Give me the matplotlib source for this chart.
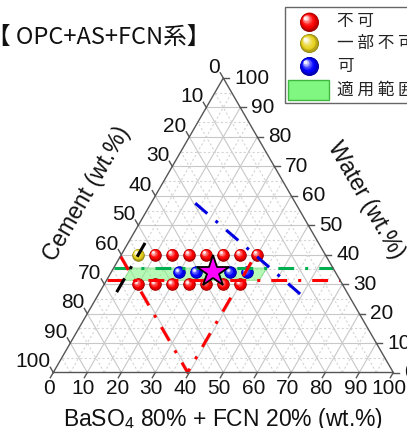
import numpy as np
import matplotlib
matplotlib.use("Agg")
import matplotlib.pyplot as plt
import matplotlib.colors as mcolors
from matplotlib.patches import Polygon, Rectangle
from matplotlib.transforms import offset_copy

plt.rcParams["mathtext.fontset"] = "custom"
plt.rcParams["mathtext.rm"] = "Liberation Sans"
plt.rcParams["mathtext.it"] = "Liberation Sans:italic"
plt.rcParams["mathtext.bf"] = "Liberation Sans:bold"

# ---- mixes, given as (BaSO4+FCN wt.%, water wt.%); cement = 100 - both ----
ng_baso4 = [10, 15, 20, 25, 30, 35, 40, 10, 15, 20, 25, 30, 35, 40]
ng_water = [40, 40, 40, 40, 40, 40, 40, 30, 30, 30, 30, 30, 30, 30]
part_baso4 = [5]
part_water = [40]
ok_baso4 = [20, 25, 35, 40]
ok_water = [34, 34, 34, 34]
opt_baso4 = [30]
opt_water = [34]

# ---- guide lines and applicable band ----
red_h_baso4 = [0, 68.7]
red_h_water = [31.3, 31.3]
green_h_baso4 = [0, 64.5]
green_h_water = [35.5, 35.5]
red_v_baso4 = [0, 39.5, 39.5]
red_v_water = [39.5, 0, 40]
blue_baso4 = [13, 62.5]
blue_water = [57.5, 24.5]
black_baso4 = [5, 5]
black_water = [44, 26]
band_baso4 = [5, 45, 45, 5]
band_water = [31.3, 31.3, 35.5, 35.5]

tick_values = [0, 10, 20, 30, 40, 50, 60, 70, 80, 90, 100]
legend_labels = ["不 可", "一 部 不 可", "可", "適 用 範 囲"]

W_PX, H_PX = 407, 428
PPU = 3.4                 # pixels per ternary unit
ORIGIN = (53.3, 372.5)    # pixel position of the cement corner
S3 = np.sqrt(3) / 2


def tern(b, w):
    b = np.asarray(b, float)
    w = np.asarray(w, float)
    return b + w / 2, w * S3


def fpos(px, py):
    return px / W_PX, 1 - py / H_PX


def to_px(x, y):
    return ORIGIN[0] + x * PPU, ORIGIN[1] - y * PPU


fig = plt.figure(figsize=(W_PX / 100, H_PX / 100), dpi=100)
ax = fig.add_axes([0, 0, 1, 1])
ax.set_xlim(-ORIGIN[0] / PPU, (W_PX - ORIGIN[0]) / PPU)
ax.set_ylim(-(H_PX - ORIGIN[1]) / PPU, ORIGIN[1] / PPU)
ax.axis("off")

# ---- grid ----
for v in range(5, 100, 5):
    major = v % 10 == 0
    kw = dict(color="#c8c8c8", lw=0.8, zorder=1) if major else \
        dict(color="#d4d4d4", lw=0.8, ls=(0, (2, 2)), zorder=1)
    for bs, ws in (([0, 100 - v], [v, v]),          # constant water
                   ([v, v], [0, 100 - v]),          # constant BaSO4
                   ([100 - v, 0], [0, 100 - v])):   # constant cement
        x, y = tern(bs, ws)
        ax.plot(x, y, **kw)

# ---- frame ----
fx, fy = tern([0, 100, 0, 0], [0, 0, 100, 0])
ax.plot(fx, fy, color="#555555", lw=1.0, zorder=6, solid_joinstyle="miter")

# ---- ticks and tick labels ----
tl = 6 / PPU
lab_font = dict(family="Liberation Sans", size=15, color="#111111")
for v in tick_values:
    # bottom: BaSO4
    x, y = tern(v, 0)
    ax.plot([x, x + tl * np.cos(np.radians(240))], [y, y + tl * np.sin(np.radians(240))],
            color="#555555", lw=1.0, zorder=6)
    px, py = to_px(x, y)
    fig.text(*fpos(px - 4, 388), str(v), ha="center", va="center", **lab_font)
    # left: cement
    x, y = tern(0, 100 - v)
    ax.plot([x, x + tl * np.cos(np.radians(120))], [y, y + tl * np.sin(np.radians(120))],
            color="#555555", lw=1.0, zorder=6)
    px, py = to_px(x, y)
    fig.text(*fpos(px - 3, py - 10.7), str(v), ha="right", va="center", **lab_font)
    # right: water
    x, y = tern(100 - v, v)
    ax.plot([x, x + tl], [y, y], color="#555555", lw=1.0, zorder=6)
    px, py = to_px(x, y)
    fig.text(*fpos(px + 11, py), str(v), ha="left", va="center", **lab_font)

# ---- axis titles ----
title_font = dict(family="Liberation Sans", size=16.5, color="#111111")
fig.text(*fpos(223, 426), r"BaSO$_4$ 80% + FCN 20% (wt.%)", ha="center",
         va="baseline", **title_font)
fig.text(*fpos(87, 194), "Cement (wt.%)", ha="center", va="center",
         rotation=60, rotation_mode="anchor", **title_font)
fig.text(*fpos(366, 200), "Water (wt.%)", ha="center", va="center",
         rotation=-60, rotation_mode="anchor", **title_font)

# ---- applicable band ----
bx, by = tern(band_baso4, band_water)
ax.add_patch(Polygon(np.column_stack([bx, by]), closed=True, facecolor="#86f486",
                     edgecolor="#5cc85c", lw=0.6, alpha=0.6, zorder=2))


# ---- shaded balls ----
def balls(xs, ys, color, ms, transform, zorder):
    base = np.array(mcolors.to_rgb(color))
    dark = base * 0.62
    n = 14
    for i in range(n):
        t = i / (n - 1)
        size = ms * (1 - 0.82 * t)
        shift = ms * 0.2 * t
        if t < 0.35:
            c = dark + (base - dark) * (t / 0.35)
        else:
            u = (t - 0.35) / 0.65
            c = base + (np.ones(3) - base) * (u ** 1.6) * 0.95
        tr = offset_copy(transform, fig=fig, x=-shift, y=shift, units="points")
        ax.plot(xs, ys, ls="none", marker="o", ms=size, mfc=tuple(c), mec="none",
                transform=tr, zorder=zorder + i * 0.001, clip_on=False)


x, y = tern(ng_baso4, ng_water)
balls(x, y, "#ff0000", 9, ax.transData, 3)
x, y = tern(part_baso4, part_water)
balls(x, y, "#e8d21e", 9, ax.transData, 3)
x, y = tern(ok_baso4, ok_water)
balls(x, y, "#0000ff", 9, ax.transData, 3)

# ---- guide lines ----
dd = (5.2, 3.6, 1.0, 3.6)
for bs, ws, col in ((red_h_baso4, red_h_water, "#ff0000"),
                    (green_h_baso4, green_h_water, "#00b050"),
                    (red_v_baso4, red_v_water, "#ff0000"),
                    (blue_baso4, blue_water, "#0000e0"),
                    (black_baso4, black_water, "#000000")):
    x, y = tern(bs, ws)
    ax.plot(x, y, color=col, lw=2.2, dashes=dd, dash_capstyle="butt", zorder=4)

x, y = tern(opt_baso4, opt_water)
ax.plot(x, y, ls="none", marker="*", ms=24, mfc="#ff00ff", mec="black", mew=1.3,
        zorder=5)

# ---- title ----
fig.text(*fpos(-13, 37), "【 OPC+AS+FCN系】", ha="left", va="center",
         family=["Noto Sans CJK JP", "DejaVu Sans"], size=17, color="#111111")

# ---- legend (drawn inside the axes, in figure coordinates) ----
x0, y0 = fpos(285, 103)
x1, y1 = fpos(412, 7)
ax.add_patch(Rectangle((x0, y0), x1 - x0, y1 - y0, transform=fig.transFigure,
                       facecolor="white", edgecolor="#666666", lw=1.0, zorder=7,
                       clip_on=False))
for lab_y, col in ((21.7, "#ff0000"), (43.3, "#e8d21e"), (66.0, "#0000ff")):
    px, py = fpos(309.3, lab_y)
    balls([px], [py], col, 13.7, fig.transFigure, 8)
gx0, gy0 = fpos(288.3, 100)
gx1, gy1 = fpos(329.3, 80)
ax.add_patch(Rectangle((gx0, gy0), gx1 - gx0, gy1 - gy0, transform=fig.transFigure,
                       facecolor="#80f780", edgecolor="#40b840", lw=1.0, zorder=8,
                       clip_on=False))
for lab, lab_y in zip(legend_labels, (21.7, 43.3, 66.7, 90.0)):
    fig.text(*fpos(336.7, lab_y), lab, ha="left", va="center", zorder=9,
             family=["Noto Sans CJK JP", "DejaVu Sans"], size=12, color="#222222")

fig.savefig("out.png", dpi=100)
